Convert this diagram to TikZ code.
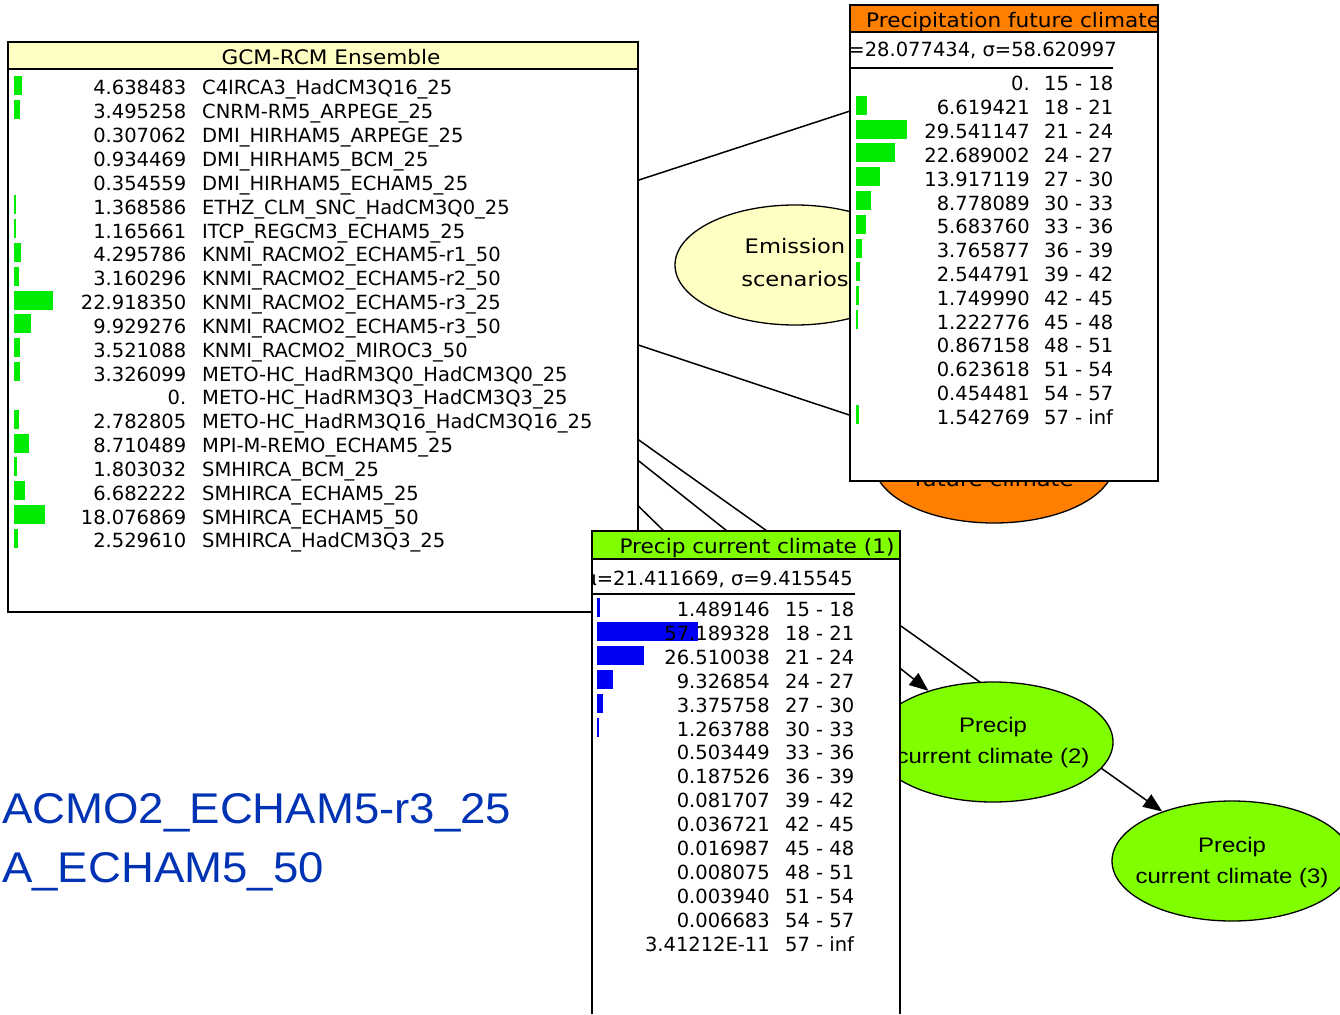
\documentclass[tikz,border=0pt]{standalone}
\usepackage{fontspec}
\setmainfont{DejaVu Sans}
\newfontfamily\titlefont[FakeStretch=1.08]{DejaVu Sans}
\newfontfamily\ovalfont[FakeStretch=1.13]{DejaVu Sans}
\newfontfamily\arialfont[FakeStretch=1.14]{Liberation Sans}
\newfontfamily\notefont[FakeStretch=1.06]{Liberation Sans}
\usetikzlibrary{shapes.geometric,arrows.meta}
\pgfdeclarelayer{edges}
\pgfsetlayers{edges,main}
\definecolor{titleyellow}{RGB}{255,255,196}
\definecolor{nodeorange}{RGB}{255,128,0}
\definecolor{nodelime}{RGB}{128,255,0}
\definecolor{bargreen}{RGB}{0,235,0}
\definecolor{barblue}{RGB}{0,0,245}
\definecolor{noteblue}{RGB}{0,51,180}
\tikzset{
  boxline/.style={draw=black, line width=1.6},
  oval/.style={ellipse, draw=black, line width=1.3, minimum width=240, minimum height=120, inner sep=0},
  rowtext/.style={inner sep=0, font=\fontsize{19.5}{22}\selectfont},
  headtext/.style={inner sep=0, font=\titlefont\fontsize{20}{22}\selectfont},
  ovaltext/.style={inner sep=0, font=\ovalfont\fontsize{20}{22}\selectfont},
  arialtext/.style={inner sep=0, font=\arialfont\fontsize{21}{24}\selectfont},
  notetext/.style={anchor=base west, inner sep=0, text=noteblue, font=\notefont\fontsize{43}{48}\selectfont},
  edgeline/.style={draw=black, line width=1.5},
  edgearrow/.style={edgeline, -{Triangle[length=19pt,width=15pt]}},
}
\begin{document}
\begin{tikzpicture}[x=1pt,y=-1pt]
\useasboundingbox (0,0) rectangle (1340,1014);

% hidden node centres behind the monitor windows
\coordinate (gcm) at (388,262);
\coordinate (topnode) at (1000,62);
\coordinate (cur1) at (746,611);

% ---------- Emission scenarios ----------
\node[oval, fill=titleyellow] (emis) at (795,265) {};
\node[ovaltext, anchor=base] (emis-a) at (795,253) {Emission};
\node[ovaltext, anchor=base] (emis-b) at (795,286) {scenarios};

% ---------- Precipitation future climate (oval) ----------
\node[oval, fill=nodeorange] (fut) at (994,463) {};
\node[ovaltext, anchor=base] (fut-a) at (994,454) {Precipitation};
\node[ovaltext, anchor=base] (fut-b) at (994,486) {future climate};

% ---------- Precipitation future climate (monitor) ----------
\fill[white] (850,5) rectangle (1158,481);
\begin{scope}
  \clip (850,5) rectangle (1158,481);
  \fill[nodeorange] (850,5) rectangle (1158,32);
  \node[headtext, anchor=base west] (futtitle) at (866,28) {Precipitation future climate};
  \node[rowtext, anchor=base east] (futstats) at (1117,57) {μ=28.077434, σ=58.620997};
\end{scope}
\draw[boxline] (850,5) rectangle (1158,481);
\draw[boxline] (850,32) -- (1158,32);
\draw[line width=1.4] (850,68) -- (1113,68);
\foreach \v/\r [count=\i from 0] in {0./15 - 18, 6.619421/18 - 21, 29.541147/21 - 24,
  22.689002/24 - 27, 13.917119/27 - 30, 8.778089/30 - 33, 5.683760/33 - 36,
  3.765877/36 - 39, 2.544791/39 - 42, 1.749990/42 - 45, 1.222776/45 - 48,
  0.867158/48 - 51, 0.623618/51 - 54, 0.454481/54 - 57, 1.542769/57 - inf}{
  \pgfmathsetmacro\yb{91+23.8*\i}
  \ifdim\v pt<1pt\relax\else
    \pgfmathsetmacro\w{1.72*\v}
    \fill[bargreen] (856,\yb-19) rectangle ++(\w,19);
  \fi
  \node[rowtext, anchor=base east] (fv\i) at (1030,\yb) {\v};
  \node[rowtext, anchor=base west] (fr\i) at (1044,\yb) {\r};
}

% ---------- GCM-RCM Ensemble (monitor) ----------
\fill[white] (8,42) rectangle (638,612);
\fill[titleyellow] (8,42) rectangle (638,69);
\draw[boxline] (8,42) rectangle (638,612);
\draw[boxline] (8,69) -- (638,69);
\node[headtext, anchor=base] (gcmtitle) at (331,65) {GCM-RCM Ensemble};
\foreach \v/\nm [count=\i from 0] in {
  4.638483/C4IRCA3\_HadCM3Q16\_25,
  3.495258/CNRM-RM5\_ARPEGE\_25,
  0.307062/DMI\_HIRHAM5\_ARPEGE\_25,
  0.934469/DMI\_HIRHAM5\_BCM\_25,
  0.354559/DMI\_HIRHAM5\_ECHAM5\_25,
  1.368586/ETHZ\_CLM\_SNC\_HadCM3Q0\_25,
  1.165661/ITCP\_REGCM3\_ECHAM5\_25,
  4.295786/KNMI\_RACMO2\_ECHAM5-r1\_50,
  3.160296/KNMI\_RACMO2\_ECHAM5-r2\_50,
  22.918350/KNMI\_RACMO2\_ECHAM5-r3\_25,
  9.929276/KNMI\_RACMO2\_ECHAM5-r3\_50,
  3.521088/KNMI\_RACMO2\_MIROC3\_50,
  3.326099/METO-HC\_HadRM3Q0\_HadCM3Q0\_25,
  0./METO-HC\_HadRM3Q3\_HadCM3Q3\_25,
  2.782805/METO-HC\_HadRM3Q16\_HadCM3Q16\_25,
  8.710489/MPI-M-REMO\_ECHAM5\_25,
  1.803032/SMHIRCA\_BCM\_25,
  6.682222/SMHIRCA\_ECHAM5\_25,
  18.076869/SMHIRCA\_ECHAM5\_50,
  2.529610/SMHIRCA\_HadCM3Q3\_25}{
  \pgfmathsetmacro\yb{95+23.84*\i}
  \ifdim\v pt<1pt\relax\else
    \pgfmathsetmacro\w{1.72*\v}
    \fill[bargreen] (14,\yb-19) rectangle ++(\w,19);
  \fi
  \node[rowtext, anchor=base east] (gv\i) at (186.5,\yb) {\v};
  \node[rowtext, anchor=base west] (gn\i) at (202,\yb) {\nm};
}

% ---------- Precip current climate (2) ----------
\node[oval, fill=nodelime] (cur2) at (993,742) {};
\node[arialtext, anchor=base] (cur2-a) at (993,732) {Precip};
\node[arialtext, anchor=base] (cur2-b) at (993,763) {current climate (2)};

% ---------- Precip current climate (3) ----------
\node[oval, fill=nodelime] (cur3) at (1232,861) {};
\node[arialtext, anchor=base] (cur3-a) at (1232,852) {Precip};
\node[arialtext, anchor=base] (cur3-b) at (1232,883) {current climate (3)};

% ---------- Precip current climate (1) (monitor) ----------
\fill[white] (592,531) rectangle (900,1014);
\fill[nodelime] (592,531) rectangle (900,559);
\begin{scope}
  \clip (592,531) rectangle (900,1014);
  \node[rowtext, anchor=base east] (curstats) at (853,585) {μ=21.411669, σ=9.415545};
\end{scope}
\draw[boxline] (592,1014) -- (592,531) -- (900,531) -- (900,1014);
\draw[boxline] (592,559) -- (900,559);
\node[headtext, anchor=base] (curtitle) at (757,553) {Precip current climate (1)};
\draw[line width=1.4] (592,594) -- (855,594);
\foreach \v/\b/\r [count=\i from 0] in {1.489146/1.489146/15 - 18,
  57.189328/57.189328/18 - 21, 26.510038/26.510038/21 - 24,
  9.326854/9.326854/24 - 27, 3.375758/3.375758/27 - 30,
  1.263788/1.263788/30 - 33, 0.503449/0.5/33 - 36, 0.187526/0.2/36 - 39,
  0.081707/0.1/39 - 42, 0.036721/0/42 - 45, 0.016987/0/45 - 48,
  0.008075/0/48 - 51, 0.003940/0/51 - 54, 0.006683/0/54 - 57,
  3.41212E-11/0/57 - inf}{
  \pgfmathsetmacro\yb{616.5+23.9*\i}
  \ifdim\b pt<1pt\relax\else
    \pgfmathsetmacro\w{1.76*\b}
    \fill[barblue] (597,\yb-18.5) rectangle ++(\w,19);
  \fi
  \node[rowtext, anchor=base east] (cv\i) at (770,\yb) {\v};
  \node[rowtext, anchor=base west] (cr\i) at (785,\yb) {\r};
}

% ---------- caption text ----------
\node[notetext] (note1) at (2,823) {ACMO2\_ECHAM5-r3\_25};
\node[notetext] (note2) at (2,882) {A\_ECHAM5\_50};

% ---------- links (under every window and oval) ----------
\begin{pgfonlayer}{edges}
  \fill[white] (0,0) rectangle (1340,1014);
  \draw[edgeline] (gcm) -- (topnode);
  \draw[edgearrow] (gcm) -- (fut);
  \draw[edgearrow] (gcm) -- (cur1);
  \draw[edgearrow] (gcm) -- (cur2);
  \draw[edgearrow] (gcm) -- (cur3);
\end{pgfonlayer}
\end{tikzpicture}
\end{document}
